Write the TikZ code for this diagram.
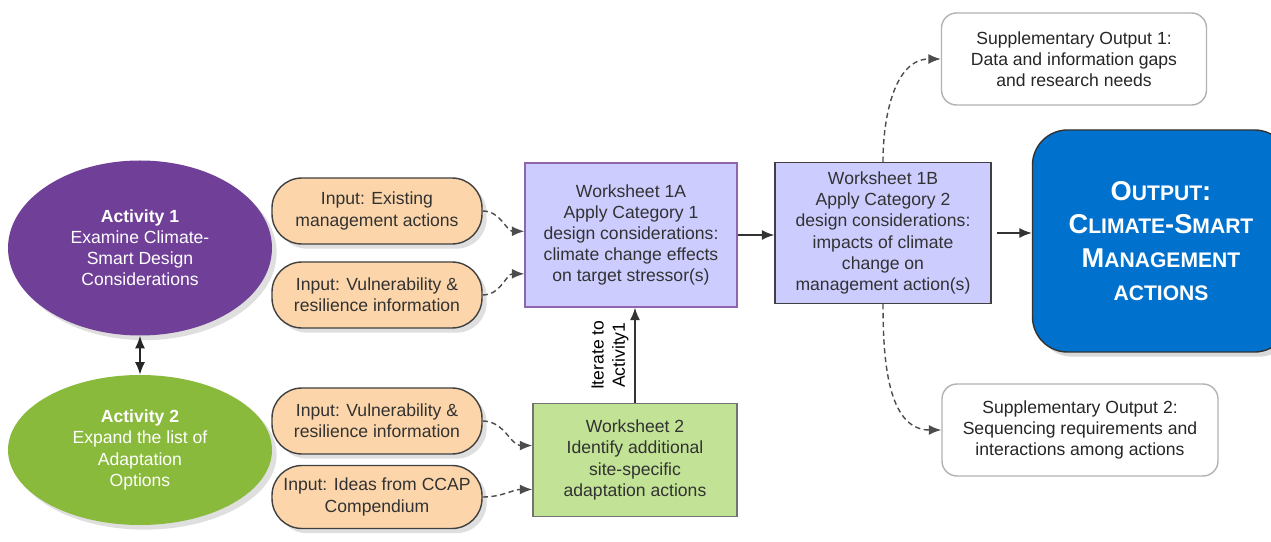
\documentclass[tikz,border=0pt]{standalone}
\usepackage{fontspec}
\setmainfont{Liberation Sans}
\usetikzlibrary{shapes.geometric,arrows.meta,shadows}
\definecolor{actpurple}{RGB}{112,64,152}
\definecolor{actgreen}{RGB}{137,186,60}
\definecolor{inputfill}{RGB}{252,214,170}
\definecolor{sheetblue}{RGB}{204,204,255}
\definecolor{sheetgreen}{RGB}{194,226,150}
\definecolor{outblue}{RGB}{0,114,206}
\definecolor{txtgray}{RGB}{50,50,50}
\newcommand{\capsmall}[1]{{\fontsize{12}{19}\selectfont #1}}
\tikzset{
	activity/.style={ellipse, minimum width=5.28cm, text=white, align=center,
		font=\fontsize{10}{12}\selectfont, drop shadow={opacity=0.25}},
	inputbox/.style={rounded corners=0.6cm, draw=black!75, fill=inputfill, thick,
		minimum width=4.2cm, minimum height=1.32cm, align=center, text=txtgray,
		font=\fontsize{10}{12}\selectfont, drop shadow={opacity=0.25}},
	sheet/.style={draw, thick, align=center, text=txtgray, font=\fontsize{10}{12}\selectfont},
	supbox/.style={draw=black!30, thick, rounded corners=0.3cm, fill=white, align=center,
		minimum height=1.84cm, font=\fontsize{10}{12}\selectfont, text=black!85},
	dasharrow/.style={densely dashed, black!70, thick, -{Latex[length=2.5mm,width=2mm]}},
	plainarrow/.style={black!80, thick, -{Latex[length=2.5mm,width=2mm]}}
}
\begin{document}
\begin{tikzpicture}
	\useasboundingbox (0,0) rectangle (25.42,10.82);
	% attivita
	\node[activity, fill=actpurple, minimum height=3.5cm] (act1) at (2.8,5.86)
		{\textbf{Activity 1}\\Examine Climate-\\Smart Design\\Considerations};
	\node[activity, fill=actgreen, minimum height=3.0cm] (act2) at (2.8,1.82)
		{\textbf{Activity 2}\\Expand the list of\\Adaptation\\Options};
	\draw[black!85, thick, {Latex[length=2.5mm,width=2mm]}-{Latex[length=2.5mm,width=2mm]}]
		(act1.south) -- (act2.north);
	% input
	\node[inputbox] (in1) at (7.54,6.6) {Input: Existing\\management actions};
	\node[inputbox] (in2) at (7.54,4.92) {Input: Vulnerability \&\\resilience information};
	\node[inputbox] (in3) at (7.54,2.4) {Input: Vulnerability \&\\resilience information};
	\node[inputbox, minimum height=1.26cm] (in4) at (7.54,0.88) {Input: Ideas from CCAP\\Compendium};
	% worksheet
	\node[sheet, draw=actpurple!80, fill=sheetblue, minimum width=4.24cm, minimum height=2.88cm]
		(ws1a) at (12.62,6.12)
		{Worksheet 1A\\Apply Category 1\\design considerations:\\climate change effects\\on target stressor(s)};
	\node[sheet, draw=black!55, fill=sheetgreen, minimum width=4.08cm, minimum height=2.26cm]
		(ws2) at (12.7,1.62)
		{Worksheet 2\\Identify additional\\site-specific\\adaptation actions};
	\node[sheet, draw=black!75, fill=sheetblue, minimum width=4.32cm, minimum height=2.82cm]
		(ws1b) at (17.66,6.16)
		{Worksheet 1B\\Apply Category 2\\design considerations:\\impacts of climate\\change on\\management action(s)};
	% output
	\node[draw=black!80, thick, fill=outblue, rounded corners=0.7cm, minimum width=5.14cm,
		minimum height=4.44cm, text=white, align=center, drop shadow={opacity=0.3},
		font=\bfseries\fontsize{15.5}{19}\selectfont] (out) at (23.22,6.0)
		{O\capsmall{UTPUT}:\\C\capsmall{LIMATE}-S\capsmall{MART}\\M\capsmall{ANAGEMENT}\\\capsmall{ACTIONS}};
	\node[supbox, minimum width=5.3cm] (sup1) at (21.48,9.64)
		{Supplementary Output 1:\\Data and information gaps\\and research needs};
	\node[supbox, minimum width=5.52cm] (sup2) at (21.6,2.22)
		{Supplementary Output 2:\\Sequencing requirements and\\interactions among actions};
	% frecce
	\draw[dasharrow] (in1.east) to[out=0,in=180] (ws1a.178);
	\draw[dasharrow] (in2.east) to[out=0,in=180] (ws1a.200);
	\draw[dasharrow] (in3.east) to[out=0,in=180] (ws2.172);
	\draw[dasharrow] (in4.east) to[out=0,in=180] (ws2.196);
	\draw[plainarrow] (ws2.north) -- (ws2.north |- ws1a.south)
		node[midway, above, sloped, align=center, text=black, font=\fontsize{10}{12}\selectfont]
		{Iterate to\\Activity1};
	\draw[plainarrow] (ws1a.east) -- (ws1a.east -| ws1b.west);
	\draw[plainarrow, shorten <=1mm] (ws1b.east) -- (ws1b.east -| out.west);
	\draw[dasharrow] (ws1b.north) to[out=90,in=180] (sup1.west);
	\draw[dasharrow] (ws1b.south) to[out=-90,in=180] (sup2.west);
\end{tikzpicture}
\end{document}
